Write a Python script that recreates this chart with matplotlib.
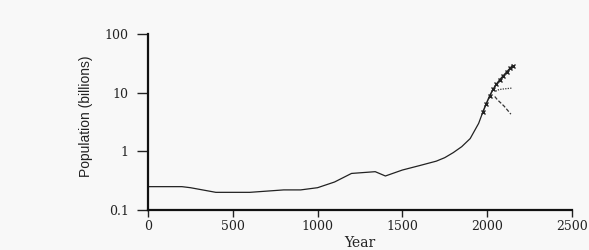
import matplotlib
matplotlib.use('Agg')
import matplotlib.pyplot as plt
from matplotlib.ticker import FixedLocator, NullLocator

# world population, billions
hist_years = [0, 200, 250, 400, 600, 800, 900, 1000, 1100, 1200, 1340, 1400,
              1500, 1600, 1700, 1750, 1800, 1850, 1900, 1950, 1975]
hist_pop = [0.25, 0.25, 0.24, 0.2, 0.2, 0.22, 0.22, 0.24, 0.3, 0.42, 0.45, 0.38,
            0.48, 0.57, 0.68, 0.78, 0.95, 1.2, 1.65, 3.0, 4.7]

# projections
high_years = [1975, 1995, 2015, 2035, 2055, 2075, 2095, 2115, 2135, 2150]
high_pop = [4.7, 6.5, 8.8, 11.4, 14.0, 16.6, 19.4, 22.4, 26.0, 29.0]
mid_years = [2050, 2070, 2100, 2150]
mid_pop = [10.6, 11.3, 11.6, 12.0]
low_years = [2045, 2060, 2100, 2140]
low_pop = [8.6, 7.6, 5.9, 4.3]
marker_years = high_years
marker_pop = high_pop

xticks = [0, 500, 1000, 1500, 2000, 2500]
yticks = [0.1, 1, 10, 100]
ylabels = ['0.1', '1', '10', '100']

fig = plt.figure(figsize=(5.89, 2.5), dpi=100)
fig.patch.set_facecolor('#f8f8f8')
ax = fig.add_axes([0.2513, 0.16, 0.7197, 0.704])
ax.set_facecolor('none')

ax.plot(hist_years, hist_pop, color='#222222', lw=0.9)
ax.plot(high_years, high_pop, color='#222222', lw=1.1)
ax.plot(marker_years, marker_pop, ls='none', marker='x', ms=3.5, mew=1.0, color='#222222')
ax.plot(mid_years, mid_pop, color='#333333', lw=0.9, ls=(0, (1, 1)))
ax.plot(low_years, low_pop, color='#333333', lw=0.9, ls=(0, (3, 1.5)))

ax.set_yscale('log')
ax.set_xlim(0, 2500)
ax.set_ylim(0.1, 100)
ax.xaxis.set_major_locator(FixedLocator(xticks))
ax.yaxis.set_major_locator(FixedLocator(yticks))
ax.yaxis.set_minor_locator(NullLocator())
ax.set_yticklabels(ylabels)

for s in ['top', 'right']:
    ax.spines[s].set_visible(False)
for s in ['left', 'bottom']:
    ax.spines[s].set_linewidth(1.6)
    ax.spines[s].set_color('#111111')

ax.tick_params(axis='y', length=8, width=1.0, pad=6, labelsize=9, colors='#222222')
ax.tick_params(axis='x', length=5, width=1.0, pad=2, labelsize=9, colors='#222222')
for t in ax.get_xticklabels() + ax.get_yticklabels():
    t.set_family('DejaVu Serif')

ax.set_ylabel('Population (billions)', family='Liberation Sans', fontsize=10, color='#222222')
ax.yaxis.set_label_coords(-0.13, 0.53)
ax.set_xlabel('Year', family='DejaVu Serif', fontsize=10, color='#222222', va='top')
ax.xaxis.set_label_coords(0.5, -0.145)

fig.savefig('out.png', dpi=100, facecolor=fig.get_facecolor())
